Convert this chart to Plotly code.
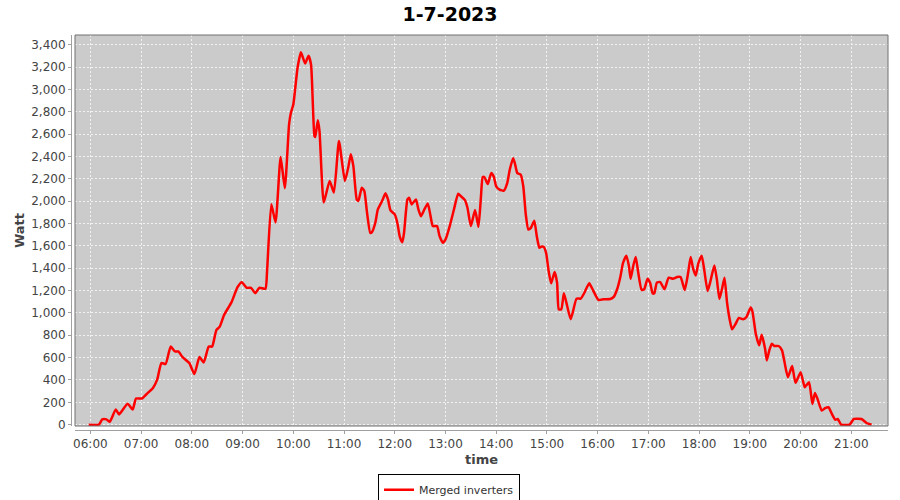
import pandas as pd
import plotly.graph_objects as go

day = "2023-07-01"

times = [
    "05:58", "06:10", "06:14", "06:19", "06:23", "06:30", "06:34", "06:44", "06:50", "06:54",
    "07:01", "07:06", "07:14", "07:19", "07:24", "07:29", "07:35", "07:40", "07:44", "07:49",
    "07:57", "08:03", "08:09", "08:14", "08:20", "08:24", "08:29", "08:33", "08:38", "08:47",
    "08:54", "08:59", "09:05", "09:10", "09:15", "09:20", "09:27", "09:29", "09:34", "09:39",
    "09:45", "09:50", "09:55", "09:57", "10:00", "10:05", "10:09", "10:14", "10:18", "10:21",
    "10:25", "10:26", "10:29", "10:31", "10:36", "10:43", "10:48", "10:54", "11:01", "11:05",
    "11:08", "11:11", "11:15", "11:17", "11:21", "11:24", "11:27", "11:31", "11:33", "11:37",
    "11:40", "11:45", "11:49", "11:52", "11:55", "12:00", "12:03", "12:06", "12:09", "12:11",
    "12:15", "12:17", "12:20", "12:25", "12:28", "12:31", "12:35", "12:39", "12:42", "12:45",
    "12:50", "12:53", "12:57", "13:00", "13:05", "13:10", "13:15", "13:18", "13:23", "13:26",
    "13:30", "13:35", "13:39", "13:42", "13:44", "13:46", "13:50", "13:54", "13:57", "14:00",
    "14:04", "14:09", "14:13", "14:16", "14:20", "14:22", "14:25", "14:29", "14:32", "14:35",
    "14:38", "14:41", "14:45", "14:48", "14:51", "14:53", "14:56", "14:59", "15:02", "15:05",
    "15:09", "15:12", "15:14", "15:17", "15:20", "15:23", "15:28", "15:31", "15:35", "15:40",
    "15:44", "15:50", "15:54", "16:01", "16:07", "16:15", "16:19", "16:23", "16:27", "16:30",
    "16:34", "16:37", "16:39", "16:42", "16:45", "16:48", "16:52", "16:55", "16:59", "17:02",
    "17:05", "17:07", "17:10", "17:14", "17:19", "17:24", "17:29", "17:34", "17:38", "17:43",
    "17:47", "17:50", "17:53", "17:56", "17:59", "18:03", "18:06", "18:10", "18:13", "18:18",
    "18:21", "18:24", "18:27", "18:30", "18:33", "18:36", "18:39", "18:43", "18:47", "18:52",
    "18:56", "19:01", "19:03", "19:07", "19:11", "19:14", "19:18", "19:20", "19:23", "19:26",
    "19:29", "19:34", "19:38", "19:41", "19:45", "19:50", "19:54", "20:00", "20:03", "20:05",
    "20:10", "20:14", "20:17", "20:20", "20:25", "20:29", "20:33", "20:37", "20:41", "20:44",
    "20:48", "20:58", "21:03", "21:12", "21:18", "21:24",
]

watt = [
    0, 0, 47, 47, 27, 136, 92, 187, 136, 234,
    234, 270, 329, 403, 551, 543, 699, 655, 655, 604,
    551, 453, 605, 557, 699, 699, 847, 877, 980, 1097,
    1230, 1275, 1225, 1225, 1177, 1225, 1216, 1379, 1973, 1810,
    2395, 2116, 2687, 2785, 2865, 3192, 3332, 3231, 3302, 3222,
    2583, 2574, 2725, 2627, 1988, 2181, 2077, 2538, 2181, 2301,
    2420, 2316, 2016, 2001, 2121, 2091, 1911, 1717, 1723, 1807,
    1926, 2001, 2070, 2016, 1917, 1881, 1807, 1681, 1633, 1717,
    2016, 2031, 1971, 2016, 1926, 1866, 1926, 1980, 1881, 1777,
    1777, 1687, 1627, 1657, 1777, 1926, 2067, 2046, 2010, 1941,
    1777, 1920, 1770, 2046, 2215, 2216, 2153, 2251, 2222, 2133,
    2103, 2094, 2162, 2281, 2385, 2341, 2251, 2237, 2133, 1880,
    1746, 1761, 1826, 1687, 1583, 1592, 1592, 1538, 1375, 1265,
    1366, 1271, 1033, 1033, 1176, 1092, 944, 1018, 1128, 1128,
    1176, 1265, 1211, 1116, 1122, 1124, 1144, 1212, 1329, 1447,
    1512, 1418, 1306, 1418, 1500, 1359, 1206, 1212, 1306, 1271,
    1176, 1176, 1271, 1276, 1212, 1315, 1306, 1321, 1321, 1206,
    1359, 1500, 1394, 1335, 1441, 1512, 1388, 1197, 1271, 1424,
    1300, 1124, 1212, 1315, 1094, 947, 853, 900, 955, 943,
    964, 1048, 1015, 814, 710, 805, 680, 575, 665, 725,
    704, 704, 665, 560, 425, 524, 374, 470, 386, 335,
    380, 186, 284, 231, 126, 147, 156, 96, 45, 51,
    0, 0, 51, 51, 15, 0,
]

x = pd.to_datetime([day + " " + t for t in times])

fig = go.Figure()
fig.add_trace(go.Scatter(
    x=x,
    y=watt,
    mode="lines",
    name="Merged inverters",
    line=dict(color="#ff0000", width=2.5, shape="spline", smoothing=0.5)
))

tick_font = dict(family="DejaVu Sans", size=12, color="#444444")
title_font = dict(family="DejaVu Sans", size=13, color="#444444")

fig.update_layout(
    width=900,
    height=500,
    margin=dict(l=71, r=12, t=35, b=70, autoexpand=False),
    paper_bgcolor="white",
    plot_bgcolor="#cbcbcb",
    title=dict(text="<b>1-7-2023</b>", x=0.5, xref="container", y=0.984,
               yref="container", yanchor="top",
               font=dict(family="DejaVu Sans", size=19, color="black")),
    showlegend=True,
    legend=dict(orientation="h", x=0.4627, xanchor="center",
                y=-0.112, yanchor="top",
                bordercolor="black", borderwidth=1, bgcolor="white",
                font=dict(family="DejaVu Sans", size=11, color="#333333"),
                itemwidth=30),
    xaxis=dict(
        domain=[0.0049, 1],
        anchor="free", position=0, automargin=False,
        type="date",
        range=[day + " 05:41:48", day + " 21:43:24"],
        dtick=3600000, tick0=day + " 06:00", tickformat="%H:%M", tickangle=0,
        showgrid=True, gridcolor="#f2f2f2", gridwidth=1, griddash="2px,2px",
        showline=True, linecolor="#a0a0a0", linewidth=1,
        ticks="outside", ticklen=3, tickcolor="#a0a0a0",
        tickfont=tick_font,
        title=dict(text="<b>time</b>", font=title_font, standoff=4),
        zeroline=False,
    ),
    yaxis=dict(
        domain=[0.0101, 1],
        anchor="free", position=0, automargin=False,
        range=[-12, 3487],
        dtick=200, tick0=0, tickformat=",d",
        showgrid=True, gridcolor="#f2f2f2", gridwidth=1, griddash="2px,2px",
        showline=True, linecolor="#a0a0a0", linewidth=1,
        ticks="outside", ticklen=3, tickcolor="#a0a0a0",
        tickfont=tick_font,
        title=dict(text="<b>Watt</b>", font=title_font, standoff=2),
        zeroline=False,
    ),
    shapes=[dict(type="rect", xref="x domain", yref="y domain",
                 x0=0, x1=1, y0=0, y1=1,
                 line=dict(color="#707070", width=1), fillcolor="rgba(0,0,0,0)")],
)

fig.write_html("out.html", config={"displayModeBar": False},
               post_script="document.body.style.margin='0';")
